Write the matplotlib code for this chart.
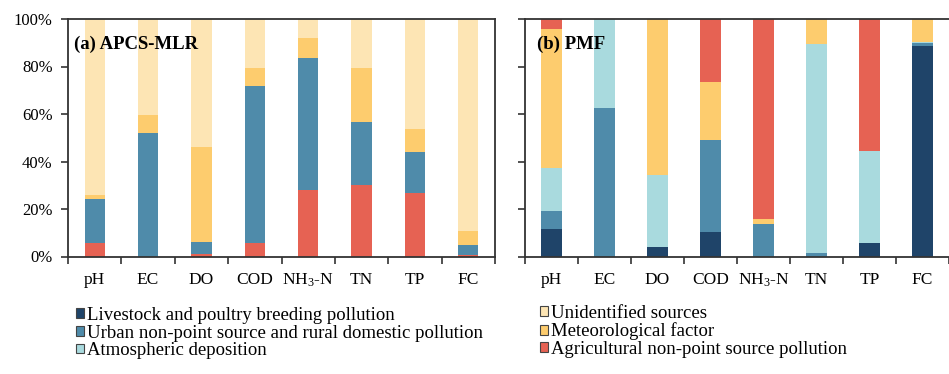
import matplotlib
matplotlib.use("Agg")
import matplotlib.pyplot as plt
from matplotlib.patches import Patch
import numpy as np

plt.rcParams['font.family'] = ['Liberation Serif', 'DejaVu Serif']
plt.rcParams['mathtext.fontset'] = 'custom'
plt.rcParams['mathtext.rm'] = 'Liberation Serif'
plt.rcParams['mathtext.it'] = 'Liberation Serif:italic'

categories = ['pH', 'EC', 'DO', 'COD', 'NH$_3$-N', 'TN', 'TP', 'FC']

# (a) APCS-MLR segment shares (%)
apcs_agri = [5.6, 0.0, 1.1, 5.6, 27.8, 30.3, 26.9, 0.8]
apcs_urban = [18.5, 52.2, 4.9, 66.4, 55.9, 26.2, 17.3, 4.1]
apcs_meteo = [2.0, 7.4, 40.1, 7.5, 8.4, 23.0, 9.4, 6.0]
apcs_unid = [73.9, 40.4, 53.9, 20.5, 7.9, 20.5, 46.4, 89.1]

# (b) PMF segment shares (%)
pmf_livestock = [11.6, 0.0, 3.8, 10.4, 0.0, 0.0, 5.6, 88.5]
pmf_urban = [7.6, 62.7, 0.0, 38.5, 13.7, 1.4, 0.0, 1.5]
pmf_atmos = [18.0, 37.3, 30.6, 0.0, 0.0, 88.2, 39.0, 0.5]
pmf_meteo = [58.5, 0.0, 65.6, 24.7, 2.0, 10.4, 0.0, 9.5]
pmf_agri = [4.3, 0.0, 0.0, 26.4, 84.3, 0.0, 55.4, 0.0]

C_LIVE = '#1F4469'
C_URBAN = '#4F8BAA'
C_ATMOS = '#A9DADE'
C_UNID = '#FDE5B4'
C_METEO = '#FDCC6E'
C_AGRI = '#E66253'

W, H = 949, 374
fig = plt.figure(figsize=(W / 100, H / 100), dpi=100)
axL = fig.add_axes([68 / W, 1 - 256.5 / H, 427 / W, 237.5 / H])
axR = fig.add_axes([525 / W, 1 - 256.5 / H, 424 / W, 237.5 / H])

x = np.arange(len(categories))
bw = 0.38


def stack(ax, series):
    bottom = np.zeros(len(categories))
    for vals, col in series:
        v = np.array(vals)
        ax.bar(x, v, bw, bottom=bottom, color=col, linewidth=0)
        bottom += v


stack(axL, [(apcs_agri, C_AGRI), (apcs_urban, C_URBAN), (apcs_meteo, C_METEO), (apcs_unid, C_UNID)])
stack(axR, [(pmf_livestock, C_LIVE), (pmf_urban, C_URBAN), (pmf_atmos, C_ATMOS),
            (pmf_meteo, C_METEO), (pmf_agri, C_AGRI)])

for ax in (axL, axR):
    ax.set_xlim(-0.5, len(categories) - 0.5)
    ax.set_ylim(0, 100)
    ax.set_xticks(np.arange(-0.5, len(categories)), minor=False)
    ax.set_xticklabels([])
    ax.set_xticks(x, minor=True)
    ax.set_xticklabels(categories, minor=True, fontsize=12.5)
    ax.tick_params(axis='x', which='minor', length=0, pad=11)
    ax.tick_params(axis='x', which='major', direction='out', length=5, width=1.2, color='#333333')
    ax.tick_params(axis='y', direction='out', length=5, width=1.2, color='#333333', pad=6)
    ax.set_yticks(np.arange(0, 101, 20))
    for s in ax.spines.values():
        s.set_color('#333333')
        s.set_linewidth(1.3)

axL.set_yticklabels([f'{v}%' for v in range(0, 101, 20)], fontsize=12)
axR.set_yticklabels([])
axR.spines['right'].set_visible(False)

axL.text(0.014, 0.895, '(a) APCS-MLR', transform=axL.transAxes, fontsize=13.5,
         fontweight='bold', va='center', ha='left')
axR.text(0.028, 0.895, '(b) PMF', transform=axR.transAxes, fontsize=13.5,
         fontweight='bold', va='center', ha='left')

labels_left = ['Livestock and poultry breeding pollution',
               'Urban non-point source and rural domestic pollution',
               'Atmospheric deposition']
labels_right = ['Unidentified sources', 'Meteorological factor',
                'Agricultural non-point source pollution']
cols_left = [C_LIVE, C_URBAN, C_ATMOS]
cols_right = [C_UNID, C_METEO, C_AGRI]

common = dict(frameon=False, fontsize=13.5, handlelength=0.42, handleheight=0.42,
              handletextpad=0.15, labelspacing=0.03, borderpad=0, borderaxespad=0,
              loc='upper left')
hL = [Patch(facecolor=c, edgecolor='#444444', linewidth=0.8) for c in cols_left]
hR = [Patch(facecolor=c, edgecolor='#444444', linewidth=0.8) for c in cols_right]
fig.legend(hL, labels_left, bbox_to_anchor=(76 / W, 1 - 307 / H), **common)
fig.legend(hR, labels_right, bbox_to_anchor=(540 / W, 1 - 305 / H), **common)

fig.savefig('out.png', dpi=100)
